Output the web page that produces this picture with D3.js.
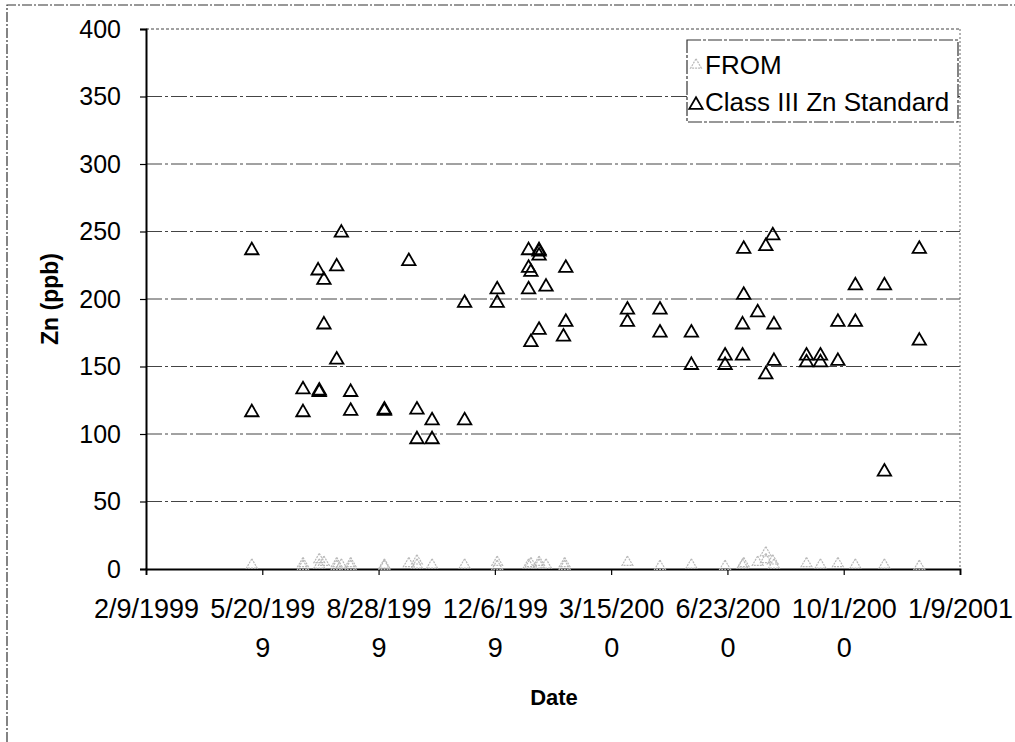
<!DOCTYPE html>
<html>
<head>
<meta charset="utf-8">
<script src="https://cdn.jsdelivr.net/npm/d3@7"></script>
<style>
  html, body { margin: 0; padding: 0; background: #fff; }
  svg { display: block; font-family: "Liberation Sans", Arial, sans-serif; }
</style>
</head>
<body>
<svg id="chart" width="1015" height="742"></svg>
<script>
// ---------- data ----------
const xTicks = ["1999-02-09","1999-05-20","1999-08-28","1999-12-06","2000-03-15","2000-06-23","2000-10-01","2001-01-09"];
const xTickLabels = [["2/9/1999"],["5/20/199","9"],["8/28/199","9"],["12/6/199","9"],["3/15/200","0"],["6/23/200","0"],["10/1/200","0"],["1/9/2001"]];
const yTicks = [0, 50, 100, 150, 200, 250, 300, 350, 400];
const seriesNames = ["FROM", "Class III Zn Standard"];

const classDates = [
  "1999-05-11","1999-05-11","1999-06-24","1999-06-24","1999-07-07","1999-07-08","1999-07-08",
  "1999-07-12","1999-07-12","1999-07-23","1999-07-23","1999-07-27","1999-08-04","1999-08-04",
  "1999-09-02","1999-09-02","1999-09-23","1999-09-30","1999-09-30","1999-10-13","1999-10-13",
  "1999-11-10","1999-11-10","1999-12-08","1999-12-08","2000-01-04","2000-01-04","2000-01-04",
  "2000-01-06","2000-01-06","2000-01-13","2000-01-13","2000-01-13","2000-01-13","2000-01-19",
  "2000-02-05","2000-02-05","2000-02-03","2000-03-29","2000-03-29","2000-04-26","2000-04-26",
  "2000-05-23","2000-05-23","2000-06-21","2000-06-21","2000-07-06","2000-07-06","2000-07-07",
  "2000-07-07","2000-07-19","2000-07-26","2000-07-26","2000-08-01","2000-08-02","2000-08-02",
  "2000-08-30","2000-08-30","2000-09-11","2000-09-11","2000-09-26","2000-09-26","2000-10-11",
  "2000-10-11","2000-11-05","2000-11-05","2000-12-05","2000-12-05"
];
const classValues = [
  236, 116, 133, 116, 221, 132, 131,
  214, 181, 224, 155, 249, 131, 117,
  118, 117, 228, 118, 96, 110, 96,
  197, 110, 207, 197, 236, 223, 207,
  220, 168, 236, 235, 232, 177, 209,
  223, 183, 172, 192, 183, 192, 175,
  175, 151, 158, 151, 158, 181, 237,
  203, 190, 239, 144, 247, 181, 154,
  158, 153, 158, 153, 154, 183, 183,
  210, 210, 72, 237, 169
];

const fromDates = [
  "1999-05-11","1999-06-24","1999-06-24","1999-07-08","1999-07-08","1999-07-12","1999-07-23",
  "1999-07-23","1999-07-27","1999-08-04","1999-08-04","1999-09-02","1999-09-02","1999-09-23",
  "1999-09-30","1999-09-30","1999-10-13","1999-11-10","1999-12-08","1999-12-08","2000-01-04",
  "2000-01-06","2000-01-13","2000-01-13","2000-01-19","2000-02-04","2000-02-04","2000-03-29",
  "2000-04-26","2000-05-23","2000-06-21","2000-07-06","2000-07-07","2000-07-19","2000-07-26",
  "2000-07-26","2000-08-01","2000-08-02","2000-08-30","2000-09-11","2000-09-26","2000-10-11",
  "2000-11-05","2000-12-05"
];
const fromValues = [
  3, 4, 2, 7, 3, 5, 4,
  2, 3, 4, 2, 2, 3, 4,
  6, 3, 3, 3, 5, 2, 3,
  4, 3, 5, 3, 4, 2, 5,
  2, 3, 2, 3, 4, 5, 12,
  7, 6, 3, 4, 3, 4, 3,
  3, 2
];

// ---------- layout ----------
const svg = d3.select("#chart");
const pLeft = 146, pRight = 960, pTop = 29, pBottom = 569;
const parse = d3.utcParse("%Y-%m-%d");

const x = d3.scaleUtc()
  .domain([parse(xTicks[0]), parse(xTicks[xTicks.length - 1])])
  .range([pLeft, pRight]);
const y = d3.scaleLinear().domain([0, 400]).range([pBottom, pTop]);

// outer chart frame (partial, extends past the image)
svg.append("path")
  .attr("d", `M7,742 L7,5 L1015,5`)
  .attr("fill", "none").attr("stroke", "#333").attr("stroke-width", 1.2)
  .attr("stroke-dasharray", "10,2,2,2");

// gridlines
svg.append("g")
  .selectAll("line")
  .data(yTicks.filter(v => v > 0))
  .join("line")
  .attr("x1", pLeft).attr("x2", pRight)
  .attr("y1", d => y(d)).attr("y2", d => y(d))
  .attr("stroke", "#444").attr("stroke-width", 1)
  .attr("stroke-dasharray", d => d === 400 ? "3,2" : "16,3,3,3");

// right border of plot
svg.append("line")
  .attr("x1", pRight).attr("x2", pRight).attr("y1", pTop).attr("y2", pBottom)
  .attr("stroke", "#666").attr("stroke-width", 1).attr("stroke-dasharray", "2,2");

// y axis
const yAxis = svg.append("g")
  .attr("transform", `translate(${pLeft},0)`)
  .call(d3.axisLeft(y).tickValues(yTicks).tickSize(6).tickPadding(19).tickFormat(d3.format("d")));
yAxis.select(".domain").attr("stroke", "#000").attr("stroke-width", 2);
yAxis.selectAll(".tick line").attr("stroke", "#000").attr("stroke-width", 1.2);
yAxis.selectAll(".tick text")
  .attr("font-size", 25).attr("fill", "#000")
  .attr("font-family", "'Liberation Sans', Arial, sans-serif");

// x axis
const xAxis = svg.append("g")
  .attr("transform", `translate(0,${pBottom})`)
  .call(d3.axisBottom(x).tickValues(xTicks.map(parse)).tickSize(6).tickFormat(""));
xAxis.select(".domain").attr("stroke", "#000").attr("stroke-width", 1.8);
xAxis.selectAll(".tick line").attr("stroke", "#000").attr("stroke-width", 1.2);

// x tick labels (wrapped as in the original)
xAxis.selectAll(".tick").each(function(d, i) {
  const t = d3.select(this).append("text")
    .attr("text-anchor", "middle")
    .attr("font-size", 27).attr("fill", "#000")
    .attr("font-family", "'Liberation Sans', Arial, sans-serif");
  xTickLabels[i].forEach((s, k) => {
    t.append("tspan").attr("x", 0).attr("y", 49 + k * 39).text(s);
  });
});

// axis titles
svg.append("text")
  .attr("transform", `translate(58,${(pTop + pBottom) / 2}) rotate(-90)`)
  .attr("text-anchor", "middle")
  .attr("font-size", 23).attr("font-weight", "bold")
  .text("Zn (ppb)");
svg.append("text")
  .attr("x", (pLeft + pRight) / 2 + 1).attr("y", 705)
  .attr("text-anchor", "middle")
  .attr("font-size", 22).attr("font-weight", "bold")
  .text("Date");

// markers
const tri = d3.symbol(d3.symbolTriangle, 78)();
const triSmall = d3.symbol(d3.symbolTriangle, 50)();

svg.append("g")
  .selectAll("path")
  .data(fromDates.map((d, i) => ({ date: parse(d), value: fromValues[i] })))
  .join("path")
  .attr("d", triSmall)
  .attr("transform", d => `translate(${x(d.date)},${y(d.value)})`)
  .attr("fill", "none").attr("stroke", "#b8b8b8").attr("stroke-width", 1.2)
  .attr("stroke-dasharray", "2,1");

svg.append("g")
  .selectAll("path")
  .data(classDates.map((d, i) => ({ date: parse(d), value: classValues[i] })))
  .join("path")
  .attr("d", tri)
  .attr("transform", d => `translate(${x(d.date)},${y(d.value)})`)
  .attr("fill", "none").attr("stroke", "#000").attr("stroke-width", 1.8);

// legend
const lg = svg.append("g");
lg.append("rect")
  .attr("x", 687).attr("y", 40).attr("width", 271).attr("height", 82)
  .attr("fill", "#fff").attr("stroke", "#333").attr("stroke-width", 1.2)
  .attr("stroke-dasharray", "14,2,3,2");
lg.append("path").attr("d", triSmall).attr("transform", "translate(696,65)")
  .attr("fill", "none").attr("stroke", "#b8b8b8").attr("stroke-width", 1.2).attr("stroke-dasharray", "2,1");
lg.append("path").attr("d", tri).attr("transform", "translate(696,105)")
  .attr("fill", "none").attr("stroke", "#000").attr("stroke-width", 1.8);
lg.selectAll("text.lbl")
  .data(seriesNames)
  .join("text")
  .attr("class", "lbl")
  .attr("x", 705).attr("y", (d, i) => 74 + i * 37)
  .attr("font-size", 26).attr("fill", "#000")
  .text(d => d);
</script>
</body>
</html>
